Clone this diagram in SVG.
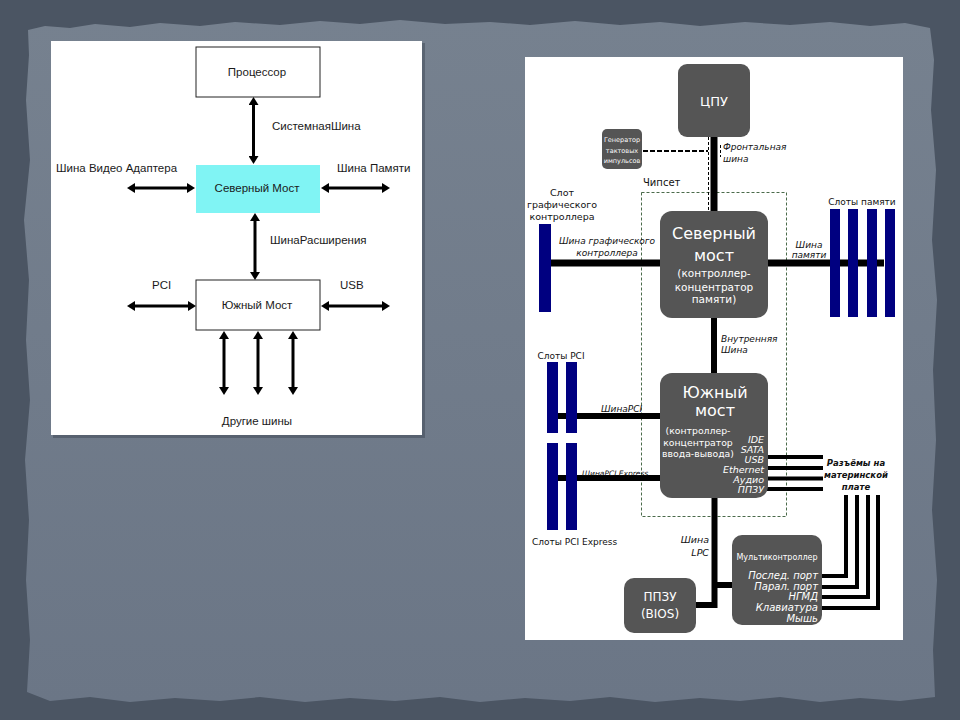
<svg xmlns="http://www.w3.org/2000/svg" width="960" height="720" viewBox="0 0 960 720">
<defs>
<style>
.lt{font-family:"Liberation Sans",Arial,sans-serif;font-size:11.5px;fill:#1a1a1a}
.rt{font-family:"DejaVu Sans","Noto Sans",sans-serif;fill:#111}
.wt{font-family:"DejaVu Sans","Noto Sans",sans-serif;fill:#fff}
.it{font-style:italic}
.node{fill:#555555}
.slot{fill:#000080}
.bus{stroke:#000;fill:none}
.arr{stroke:#000;stroke-width:3;fill:none;marker-start:url(#ah);marker-end:url(#ah)}
</style>
<marker id="ah" viewBox="0 0 8 10" refX="0" refY="5" markerWidth="8" markerHeight="10" markerUnits="userSpaceOnUse" orient="auto-start-reverse"><path d="M0,0 L8,5 L0,10 z" fill="#000"/></marker>
<linearGradient id="paper" x1="0" y1="0" x2="0" y2="1"><stop offset="0" stop-color="#76818f"/><stop offset="1" stop-color="#6b7686"/></linearGradient>
</defs>
<rect x="0" y="0" width="960" height="720" fill="#4b5563"/>
<polygon fill="url(#paper)" points="28,30 45,26 70,28 95,24 130,27 160,23 200,26 235,22 280,25 320,21 360,24 400,20 445,24 490,22 530,25 575,21 620,25 660,22 700,26 745,22 790,25 830,22 870,26 905,23 930,28 934,60 931,110 936,170 932,240 937,300 933,370 936,440 932,510 937,580 933,650 935,697 900,701 860,698 820,702 780,697 740,701 700,698 655,702 610,697 570,701 525,698 480,702 440,697 395,701 350,698 305,702 260,697 220,701 175,698 130,702 90,697 50,701 27,692 30,640 26,580 29,520 25,460 30,400 26,340 29,280 24,220 30,160 26,100 29,55"/>

<!-- left panel -->
<rect x="53" y="43" width="372" height="395" fill="#3a4250" opacity="0.45"/>
<rect x="51" y="41" width="371" height="394" fill="#ffffff"/>

<g id="l-cpu"><rect x="196" y="47" width="124" height="50" fill="#fff" stroke="#222" stroke-width="1"/><text class="lt" x="257" y="75.5" text-anchor="middle">Процессор</text></g>
<g id="l-nb"><rect x="196" y="165" width="124" height="48" fill="#80f4f4"/><text class="lt" x="257" y="192" text-anchor="middle">Северный Мост</text></g>
<g id="l-sb"><rect x="196" y="280" width="124" height="50" fill="#fff" stroke="#222" stroke-width="1"/><text class="lt" x="257" y="309" text-anchor="middle">Южный Мост</text></g>

<g id="l-connectors">
<line class="arr" x1="253.5" y1="105" x2="253.5" y2="156"/>
<line class="arr" x1="135" y1="188" x2="187" y2="188"/>
<line class="arr" x1="329" y1="188" x2="382" y2="188"/>
<line class="arr" x1="255" y1="221" x2="255" y2="272"/>
<line class="arr" x1="135" y1="306" x2="188" y2="306"/>
<line class="arr" x1="329" y1="306" x2="382" y2="306"/>
<line class="arr" x1="224" y1="339" x2="224" y2="387"/>
<line class="arr" x1="258" y1="339" x2="258" y2="387"/>
<line class="arr" x1="293" y1="339" x2="293" y2="387"/>
</g>
<g id="l-labels">
<text class="lt" x="272" y="130">СистемнаяШина</text>
<text class="lt" x="56" y="172">Шина Видео Адаптера</text>
<text class="lt" x="337" y="172">Шина Памяти</text>
<text class="lt" x="270" y="244">ШинаРасширения</text>
<text class="lt" x="152" y="289">PCI</text>
<text class="lt" x="340" y="289">USB</text>
<text class="lt" x="257" y="425" text-anchor="middle">Другие шины</text>
</g>

<!-- right panel -->
<rect x="525" y="57" width="378" height="583" fill="#ffffff"/>

<rect x="641.5" y="192.5" width="145" height="324" fill="none" stroke="#4a6a4a" stroke-width="1" stroke-dasharray="3,2"/>
<text class="rt" x="643" y="186" font-size="10">Чипсет</text>

<g id="r-connectors">
<line class="bus" x1="714" y1="137" x2="714" y2="212" stroke-width="7"/>
<line class="bus" x1="708.5" y1="137" x2="708.5" y2="210" stroke-width="1" stroke-dasharray="3,2"/>
<line class="bus" x1="643" y1="151" x2="708" y2="151" stroke-width="2" stroke-dasharray="5,2"/>
<line class="bus" x1="720.5" y1="145" x2="720.5" y2="157" stroke-width="1" stroke-dasharray="3,2"/>
<line class="bus" x1="714" y1="317" x2="714" y2="374" stroke-width="6"/>
<line class="bus" x1="551" y1="263" x2="661" y2="263" stroke-width="7"/>
<line class="bus" x1="767" y1="263" x2="884" y2="263" stroke-width="7"/>
<line class="bus" x1="558" y1="416" x2="661" y2="416" stroke-width="6"/>
<line class="bus" x1="558" y1="478" x2="661" y2="478" stroke-width="6"/>
<path class="bus" d="M714.5,497 V605 H695" stroke-width="6"/>
<line class="bus" x1="714" y1="585" x2="733" y2="585" stroke-width="6"/>
<line class="bus" x1="767" y1="457" x2="823" y2="457" stroke-width="4"/>
<line class="bus" x1="767" y1="468" x2="823" y2="468" stroke-width="4"/>
<line class="bus" x1="767" y1="478.5" x2="823" y2="478.5" stroke-width="4"/>
<line class="bus" x1="767" y1="489" x2="823" y2="489" stroke-width="4"/>
<path class="bus" d="M821,576 H846 V495" stroke-width="4"/>
<path class="bus" d="M821,587 H857 V495" stroke-width="4"/>
<path class="bus" d="M821,597 H868 V495" stroke-width="4"/>
<path class="bus" d="M821,608 H878 V495" stroke-width="4"/>
</g>

<g id="r-cpu"><rect class="node" x="678" y="64" width="72" height="73" rx="9"/><text class="wt" x="714" y="106" font-size="13" text-anchor="middle">ЦПУ</text></g>
<g id="r-clock"><rect class="node" x="602" y="129" width="40" height="40" rx="5"/>
<text class="wt" font-size="6.5" text-anchor="middle"><tspan x="622" y="142">Генератор</tspan><tspan x="622" y="153">тактовых</tspan><tspan x="622" y="163">импульсов</tspan></text></g>
<g id="r-nb"><rect class="node" x="660" y="211" width="108" height="107" rx="12"/>
<text class="wt" font-size="16" text-anchor="middle"><tspan x="714" y="239">Северный</tspan><tspan x="714" y="261">мост</tspan></text>
<text class="wt" font-size="10.5" text-anchor="middle"><tspan x="714" y="277">(контроллер-</tspan><tspan x="714" y="291">концентратор</tspan><tspan x="714" y="303">памяти)</tspan></text></g>
<g id="r-sb"><rect class="node" x="660" y="373" width="108" height="125" rx="12"/>
<text class="wt" font-size="16" text-anchor="middle"><tspan x="715" y="398">Южный</tspan><tspan x="715" y="416">мост</tspan></text>
<text class="wt" font-size="9.3" text-anchor="middle"><tspan x="698" y="434">(контроллер-</tspan><tspan x="698" y="446">концентратор</tspan><tspan x="698" y="457">ввода-вывода)</tspan></text>
<text class="wt it" font-size="9.5" text-anchor="end"><tspan x="764" y="443">IDE</tspan><tspan x="764" y="453">SATA</tspan><tspan x="764" y="463">USB</tspan><tspan x="764" y="473">Ethernet</tspan><tspan x="764" y="483">Аудио</tspan><tspan x="764" y="493">ППЗУ</tspan></text></g>
<g id="r-bios"><rect class="node" x="624" y="578" width="72" height="55" rx="10"/>
<text class="wt" font-size="12" text-anchor="middle"><tspan x="660" y="601">ППЗУ</tspan><tspan x="660" y="618">(BIOS)</tspan></text></g>
<g id="r-multi"><rect class="node" x="732" y="535" width="90" height="90" rx="10"/>
<text class="wt" font-size="8" x="777" y="560" text-anchor="middle">Мультиконтроллер</text>
<text class="wt it" font-size="10" text-anchor="end"><tspan x="818" y="579">Послед. порт</tspan><tspan x="818" y="590">Парал. порт</tspan><tspan x="818" y="600">НГМД</tspan><tspan x="818" y="611">Клавиатура</tspan><tspan x="818" y="622">Мышь</tspan></text></g>

<g id="r-gslot"><rect class="slot" x="539" y="224" width="12" height="88"/></g>
<g id="r-memslots"><rect class="slot" x="830" y="209" width="10" height="108"/><rect class="slot" x="848" y="209" width="10" height="108"/><rect class="slot" x="867" y="209" width="10" height="108"/><rect class="slot" x="885" y="209" width="10" height="108"/></g>
<g id="r-pcislots"><rect class="slot" x="547" y="362" width="11" height="71"/><rect class="slot" x="566" y="362" width="11" height="71"/></g>
<g id="r-pcieslots"><rect class="slot" x="547" y="443" width="11" height="87"/><rect class="slot" x="566" y="443" width="11" height="87"/></g>

<g id="r-labels">
<text class="rt" font-size="9.5" text-anchor="middle"><tspan x="562" y="196">Слот</tspan><tspan x="562" y="208">графического</tspan><tspan x="562" y="220">контроллера</tspan></text>
<text class="rt it" font-size="9" text-anchor="middle"><tspan x="607" y="244">Шина графического</tspan><tspan x="607" y="256">контроллера</tspan></text>
<text class="rt it" font-size="9"><tspan x="723" y="150">Фронтальная</tspan><tspan x="723" y="162">шина</tspan></text>
<text class="rt" font-size="9" x="862" y="205" text-anchor="middle">Слоты памяти</text>
<text class="rt it" font-size="9" text-anchor="middle"><tspan x="809" y="248">Шина</tspan><tspan x="809" y="258">памяти</tspan></text>
<text class="rt it" font-size="9"><tspan x="721" y="342">Внутренняя</tspan><tspan x="721" y="353">Шина</tspan></text>
<text class="rt" font-size="9" x="561" y="359" text-anchor="middle">Слоты PCI</text>
<text class="rt it" font-size="9" x="601" y="412">ШинаPCI</text>
<text class="rt it" font-size="7.5" x="582" y="476">ШинаPCI Express</text>
<text class="rt" font-size="9" x="532" y="545">Слоты PCI Express</text>
<text class="rt it" font-size="9.5" text-anchor="end"><tspan x="709" y="543">Шина</tspan><tspan x="709" y="556">LPC</tspan></text>
<text class="rt it" font-size="8.5" font-weight="bold" text-anchor="middle"><tspan x="856" y="466">Разъёмы на</tspan><tspan x="856" y="478">материнской</tspan><tspan x="856" y="490">плате</tspan></text>
</g>
</svg>
